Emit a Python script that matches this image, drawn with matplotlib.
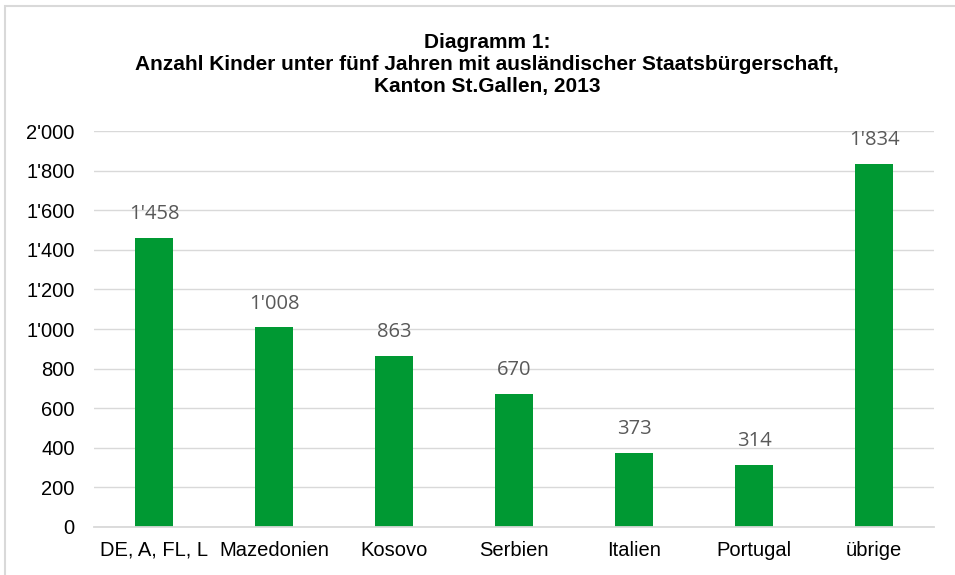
import matplotlib.pyplot as plt
from matplotlib.ticker import FuncFormatter, MultipleLocator
from matplotlib.patches import Rectangle

categories = ['DE, A, FL, L', 'Mazedonien', 'Kosovo', 'Serbien', 'Italien', 'Portugal', 'übrige']
values = [1458, 1008, 863, 670, 373, 314, 1834]

title = ('Diagramm 1:\n'
         'Anzahl Kinder unter fünf Jahren mit ausländischer Staatsbürgerschaft,\n'
         'Kanton St.Gallen, 2013')


def swiss(v, pos=None):
    return '{:,.0f}'.format(v).replace(',', "'")


plt.rcParams['font.family'] = ['Liberation Sans', 'DejaVu Sans']

fig = plt.figure(figsize=(9.55, 5.75), dpi=100, facecolor='white')
ax = fig.add_axes([0.0984, 0.0835, 0.8796, 0.6885])

x = range(len(categories))
bars = ax.bar(x, values, width=0.32, color='#009933', zorder=3)

for b, v in zip(bars, values):
    ax.annotate(swiss(v), (b.get_x() + b.get_width() / 2, v),
                xytext=(0, 10), textcoords='offset points',
                ha='center', va='bottom', fontsize=14.5, color='#595959',
                family=['Open Sans', 'DejaVu Sans'])

ax.set_xlim(-0.5, len(categories) - 0.5)
ax.set_ylim(0, 2000)
ax.yaxis.set_major_locator(MultipleLocator(200))
ax.yaxis.set_major_formatter(FuncFormatter(swiss))
ax.set_xticks(list(x))
ax.set_xticklabels(categories)

ax.grid(axis='y', color='#d9d9d9', linewidth=1, zorder=0)
for s in ['left', 'right', 'top']:
    ax.spines[s].set_visible(False)
ax.spines['bottom'].set_color('#d9d9d9')
ax.spines['bottom'].set_linewidth(1.3)
ax.spines['bottom'].set_zorder(4)
ax.tick_params(axis='both', length=0, labelsize=14.5, colors='black')
ax.tick_params(axis='x', pad=10)
ax.tick_params(axis='y', pad=14)

fig.text(0.51, 0.888, title, ha='center', va='center', fontsize=15,
         fontweight='bold', linespacing=1.2)

# light frame around the chart
fig.patches.append(Rectangle((5 / 955, -0.1), 1.2, 1.1 - 6 / 575, transform=fig.transFigure,
                             fill=False, edgecolor='#d9d9d9', linewidth=1.5))

fig.savefig('out.png', dpi=100, facecolor='white')
